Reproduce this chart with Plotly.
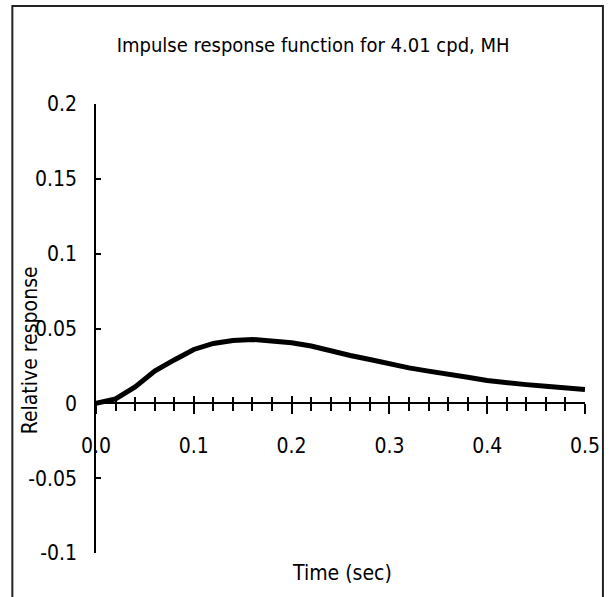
import plotly.graph_objects as go

# Data
time_sec = [0.00, 0.02, 0.04, 0.06, 0.08, 0.10, 0.12, 0.14, 0.16, 0.18,
            0.20, 0.22, 0.24, 0.26, 0.28, 0.30, 0.32, 0.34, 0.36, 0.38,
            0.40, 0.42, 0.44, 0.46, 0.48, 0.50]
response = [0.0, 0.003, 0.011, 0.0215, 0.029, 0.036, 0.040, 0.042, 0.0427, 0.042,
            0.0405, 0.0383, 0.0349, 0.032, 0.0293, 0.0264, 0.0237, 0.0215, 0.0197, 0.0174,
            0.0152, 0.0136, 0.0125, 0.0114, 0.0103, 0.0092]

x_tickvals = [0.0, 0.1, 0.2, 0.3, 0.4, 0.5]
x_ticktext = ["0.0", "0.1", "0.2", "0.3", "0.4", "0.5"]
y_tickvals = [-0.1, -0.05, 0, 0.05, 0.1, 0.15, 0.2]
y_ticktext = ["-0.1", "-0.05", "0", "0.05", "0.1", "0.15", "0.2"]

FONT = "DejaVu Sans Condensed, Liberation Sans Narrow, sans-serif"
FS = 21

fig = go.Figure()
fig.add_trace(go.Scatter(x=time_sec, y=response, mode="lines",
                         line=dict(color="black", width=5), showlegend=False))
# invisible trace on the overlay axis so its ticks are drawn
fig.add_trace(go.Scatter(x=time_sec, y=response, mode="lines", xaxis="x2",
                         line=dict(color="rgba(0,0,0,0)", width=0), showlegend=False,
                         hoverinfo="skip"))

W, H = 612, 597
L, R, T, B = 96, 25, 104, 44

fig.update_layout(
    width=W, height=H,
    margin=dict(l=L, r=R, t=T, b=B),
    paper_bgcolor="white", plot_bgcolor="white",
    font=dict(family=FONT, size=FS, color="black"),
    title=dict(text="Impulse response function for 4.01 cpd, MH",
               x=(314 - L) / (W - L - R), xref="paper", xanchor="center",
               y=1 - 45 / H, yref="container", yanchor="middle",
               font=dict(family=FONT, size=20, color="black")),
    xaxis=dict(range=[0, 0.5], anchor="free", position=1/3,
               showgrid=False, zeroline=False,
               showline=True, linecolor="black", linewidth=1.5,
               tickvals=x_tickvals, ticktext=x_ticktext,
               ticks="outside", ticklen=10, tickwidth=1.5, tickcolor="black",
               minor=dict(dtick=0.02, tick0=0, ticks="outside", ticklen=7,
                          tickwidth=1.5, tickcolor="black"),
               ticklabelstandoff=14,
               tickfont=dict(family=FONT, size=FS, color="black")),
    xaxis2=dict(range=[0, 0.5], overlaying="x", anchor="free", position=1/3,
                showgrid=False, zeroline=False, showline=False,
                tickvals=x_tickvals, showticklabels=False,
                ticks="inside", ticklen=7, tickwidth=1.5, tickcolor="black",
                minor=dict(dtick=0.02, tick0=0, ticks="inside", ticklen=6,
                           tickwidth=1.5, tickcolor="black")),
    yaxis=dict(range=[-0.1, 0.2], showgrid=False, zeroline=False,
               showline=True, linecolor="black", linewidth=1.5,
               tickvals=y_tickvals, ticktext=y_ticktext,
               ticks="inside", ticklen=5, tickwidth=1.5, tickcolor="black",
               ticklabelstandoff=13,
               tickfont=dict(family=FONT, size=FS, color="black")),
)

pw, ph = W - L - R, H - T - B

# axis titles placed as in the reference
fig.add_annotation(text="Time (sec)", xref="paper", yref="paper",
                   x=(343 - L) / pw, y=(H - B - 573) / ph,
                   showarrow=False, xanchor="center", yanchor="middle",
                   font=dict(family=FONT, size=FS, color="black"))
fig.add_annotation(text="Relative response", xref="paper", yref="paper",
                   x=(30 - L) / pw, y=(H - B - 350) / ph, textangle=-90,
                   showarrow=False, xanchor="center", yanchor="middle",
                   font=dict(family=FONT, size=FS, color="black"))

# outer chart frame
fig.add_shape(type="rect", xref="paper", yref="paper",
              x0=(12 - L) / pw, x1=(605 - L) / pw,
              y0=(H - B - 605) / ph, y1=(H - B - 6) / ph,
              line=dict(color="#222222", width=2), layer="below")

fig.write_html("out.html")
